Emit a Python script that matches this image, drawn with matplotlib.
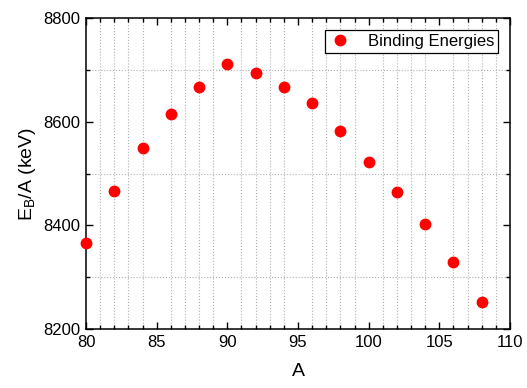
import matplotlib
matplotlib.use("Agg")
import matplotlib.pyplot as plt
from matplotlib.ticker import MultipleLocator

plt.rcParams['font.family'] = ['Liberation Sans', 'DejaVu Sans']

A = [80, 82, 84, 86, 88, 90, 92, 94, 96, 98, 100, 102, 104, 106, 108]
EB = [8366, 8466, 8549, 8615, 8667, 8711, 8694, 8667, 8636, 8582,
      8522, 8465, 8402, 8330, 8252]

fig = plt.figure(figsize=(5.27, 3.88), dpi=100)
ax = fig.add_axes([86/527, 1-329/388, (510-86)/527, (329-18)/388])

ax.plot(A, EB, 'o', color='red', ms=7.5, label='Binding Energies', clip_on=False, zorder=5)

ax.set_xlim(80, 110)
ax.set_ylim(8200, 8800)
ax.xaxis.set_major_locator(MultipleLocator(5))
ax.xaxis.set_minor_locator(MultipleLocator(1))
ax.yaxis.set_major_locator(MultipleLocator(200))
ax.yaxis.set_minor_locator(MultipleLocator(100))
ax.grid(which='minor', linestyle=':', color='#b0b0b0', linewidth=0.8)
ax.grid(which='major', visible=False)

ax.tick_params(which='both', direction='in', top=True, right=True, labelsize=12, width=1)
ax.tick_params(which='major', length=5, pad=4)
ax.tick_params(which='minor', length=3)
for s in ax.spines.values():
    s.set_linewidth(1.1)

ax.set_xlabel('A', fontsize=14, labelpad=10)
ax.set_ylabel('E$_\\mathregular{B}$/A (keV)', fontsize=14, labelpad=4)

leg = ax.legend(loc='upper right', fontsize=12, fancybox=False, edgecolor='black',
                framealpha=1, handletextpad=1.0, borderpad=0.25, handlelength=1.3,
                borderaxespad=0.7)
leg.get_frame().set_linewidth(0.9)

fig.savefig('out.png', dpi=100)
